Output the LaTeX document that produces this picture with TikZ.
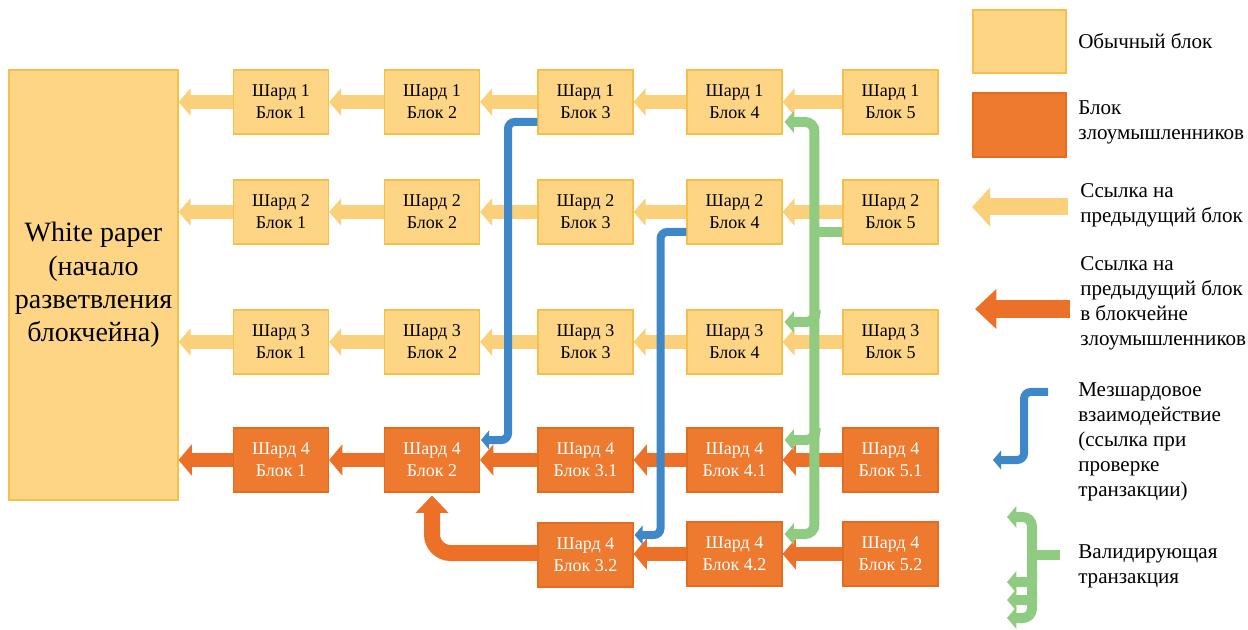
\documentclass[tikz,border=0pt]{standalone}
\usepackage{fontspec}
\setmainfont{Liberation Serif}
\usetikzlibrary{arrows.meta,calc}
\definecolor{yfill}{HTML}{FDD584}
\definecolor{yline}{HTML}{F5C04A}
\definecolor{ofill}{HTML}{EE7A30}
\definecolor{oline}{HTML}{E46C1E}
\definecolor{yarrc}{HTML}{FBD07A}
\definecolor{oarrc}{HTML}{EC7028}
\definecolor{bluec}{HTML}{3E87C8}
\definecolor{greenc}{HTML}{8FCB80}
\begin{document}
\begin{tikzpicture}[x=0.75pt,y=-0.75pt,
 blk/.style={draw=yline, fill=yfill, line width=0.8pt, minimum width=71.25pt, minimum height=48pt, inner sep=0pt, align=center, font=\fontsize{13.5}{16.5}\selectfont},
 oblk/.style={blk, draw=oline, fill=ofill, text=white},
 yarr/.style={draw=yarrc, line width=11pt, -{Triangle[width=20pt,length=9pt]}},
 oarr/.style={draw=oarrc, line width=11pt, -{Triangle[width=23pt,length=10pt]}},
 barr/.style={draw=bluec, line width=6pt, rounded corners=5pt, -{Triangle[width=14pt,length=6pt]}},
 garr/.style={draw=greenc, line width=7.5pt, rounded corners=7pt, -{Triangle[width=16pt,length=7pt]}},
 gline/.style={draw=greenc, line width=7.5pt},
 legtxt/.style={anchor=west, align=left, inner sep=0pt, font=\fontsize{15.8}{18.75}\selectfont}
]
\useasboundingbox (0,0) rectangle (1248,630);

% White paper
\node[blk, minimum width=126.75pt, minimum height=322.5pt, font=\fontsize{21}{25}\selectfont] (wp) at (93.5,285) {White paper\\(начало\\разветвления\\блокчейна)};

% ordinary blocks
\foreach \r/\y in {1/102,2/212,3/342}{
  \foreach \c/\x in {1/281,2/432,3/585.5,4/734.5,5/890.5}{
    \node[blk] (b\r\c) at (\x,\y) {Шард \r\\Блок \c};
  }
}
% attacker blocks
\node[oblk] (b41) at (281,460) {Шард 4\\Блок 1};
\node[oblk] (b42) at (432,460) {Шард 4\\Блок 2};
\node[oblk] (b43) at (585.5,460) {Шард 4\\Блок 3.1};
\node[oblk] (b44) at (734.5,460) {Шард 4\\Блок 4.1};
\node[oblk] (b45) at (890.5,460) {Шард 4\\Блок 5.1};
\node[oblk] (b53) at (585.5,555) {Шард 4\\Блок 3.2};
\node[oblk] (b54) at (734.5,554) {Шард 4\\Блок 4.2};
\node[oblk] (b55) at (890.5,554) {Шард 4\\Блок 5.2};

% yellow links
\foreach \r in {1,2,3}{
  \draw[yarr] (b\r1.west) -- (wp.east |- b\r1.west);
  \draw[yarr] (b\r2.west) -- (b\r1.east);
  \draw[yarr] (b\r3.west) -- (b\r2.east);
  \draw[yarr] (b\r4.west) -- (b\r3.east);
  \draw[yarr] (b\r5.west) -- (b\r4.east);
}
% orange links
\draw[oarr] (b41.west) -- (wp.east |- b41.west);
\draw[oarr] (b42.west) -- (b41.east);
\draw[oarr] (b43.west) -- (b42.east);
\draw[oarr] (b44.west) -- (b43.east);
\draw[oarr] (b45.west) -- (b44.east);
\draw[oarr] (b55.west) -- (b54.east);
\draw[oarr] (b54.west) -- (b53.east |- b54.west);
\draw[oarr, line width=12pt, rounded corners=14pt, -{Triangle[width=24pt,length=13pt]}] ($(b53.west)+(0,-2)$) -| ($(b42.south)+(0,3)$);

% blue cross-shard links
\draw[barr] ($(b13.west)+(0,20)$) -| ($(b42.east)+(28,-20)$) -- ($(b42.east)+(1,-20)$);
\draw[barr] ($(b24.west)+(0,20)$) -| ($(b53.east)+(27,-20)$) -- ($(b53.east)+(1,-20)$);

% green validating transaction
\coordinate (gv) at ($(b25.west)+(-28,20)$);
\draw[gline] (gv) -- ($(b25.west)+(0,20)$);
\draw[garr] (gv) |- ($(b14.east)+(2,20)$);
\draw[garr] (gv) |- ($(b54.east)+(2,-20)$);
\draw[garr] ($(b34.east)+(33,-32)$) |- ($(b34.east)+(2,-20)$);
\draw[garr] ($(b44.east)+(33,-32)$) |- ($(b44.east)+(2,-20)$);

% legend
\node[draw=yline, fill=yfill, line width=0.8pt, minimum width=69.75pt, minimum height=47.25pt, inner sep=0pt] (ly) at (1019.5,41.5) {};
\node[draw=oline, fill=ofill, line width=0.8pt, minimum width=69.75pt, minimum height=48pt, inner sep=0pt] (lo) at (1019.5,125) {};
\node[legtxt] (t1) at (1078,41) {Обычный блок};
\node[legtxt] (t2) at (1078,122) {Блок\\злоумышленников};
\node[legtxt] (t3) at (1080,205) {Ссылка на\\предыдущий блок};
\node[legtxt] (t4) at (1080,303) {Ссылка на\\предыдущий блок\\в блокчейне\\злоумышленников};
\node[legtxt] (t5) at (1078,442) {Мезшардовое\\взаимодействие\\(ссылка при\\проверке\\транзакции)};
\node[legtxt] (t6) at (1078,566) {Валидирующая\\транзакция};

\coordinate (la1) at (1068,207); \coordinate (la2) at (972,207);
\draw[draw=yarrc, line width=12.75pt, -{Triangle[width=28.5pt,length=13.5pt]}] (la1) -- (la2);
\coordinate (lb1) at (1070,309); \coordinate (lb2) at (975,309);
\draw[draw=oarrc, line width=14pt, -{Triangle[width=29pt,length=16pt]}] (lb1) -- (lb2);

\coordinate (lc1) at (1048,392); \coordinate (lc2) at (1024,460); \coordinate (lc3) at (993,460);
\draw[barr] (lc1) -| (lc2) -- (lc3);

\coordinate (lg) at (1032,555);
\coordinate (lg1) at (1007,517); \coordinate (lg2) at (1007,582);
\coordinate (lg3) at (1007,600); \coordinate (lg4) at (1007,618);
\coordinate (lge) at (1060,555);
\draw[gline] (lg) -- (lge);
\draw[garr] (lg) |- (lg1);
\draw[garr] (lg) |- (lg4);
\draw[garr, rounded corners=3pt] (lg |- 0,572) |- (lg2);
\draw[garr, rounded corners=3pt] (lg |- 0,590) |- (lg3);
\end{tikzpicture}
\end{document}
